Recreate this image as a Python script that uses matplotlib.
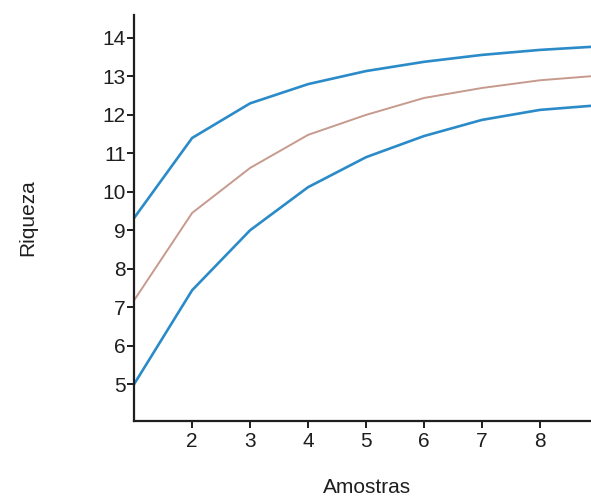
import matplotlib
matplotlib.use("Agg")
import matplotlib.pyplot as plt

amostras = [1, 2, 3, 4, 5, 6, 7, 8, 9]
superior = [9.32, 11.4, 12.3, 12.8, 13.14, 13.38, 13.56, 13.69, 13.78]
media = [7.18, 9.45, 10.62, 11.48, 12.0, 12.44, 12.7, 12.9, 13.02]
inferior = [5.0, 7.44, 9.0, 10.12, 10.9, 11.45, 11.87, 12.13, 12.25]

plt.rcParams['font.family'] = ['Liberation Sans', 'DejaVu Sans']

fig = plt.figure(figsize=(5.91, 4.97), dpi=100)
ax = fig.add_axes([0.227, 0.153, 0.773, 0.817])

ax.plot(amostras, superior, color='#2b8bc8', linewidth=1.9)
ax.plot(amostras, media, color='#c79a8e', linewidth=1.4)
ax.plot(amostras, inferior, color='#2b8bc8', linewidth=1.9)

ax.set_xlim(1, 8.88)
ax.set_ylim(4.04, 14.6)
ax.set_xticks(range(2, 9))
ax.set_yticks(range(5, 15))

for s in ['top', 'right']:
    ax.spines[s].set_visible(False)
for s in ['left', 'bottom']:
    ax.spines[s].set_linewidth(1.6)
    ax.spines[s].set_color('#1e1e1e')

ax.tick_params(axis='both', direction='out', length=5, width=1.4, labelsize=15, colors='#1e1e1e')
ax.tick_params(axis='y', pad=1)
ax.tick_params(axis='x', pad=3)

ax.set_xlabel('Amostras', fontsize=15, color='#1e1e1e')
ax.set_ylabel('Riqueza', fontsize=15, color='#1e1e1e')
ax.xaxis.set_label_coords(0.51, -0.14)
ax.yaxis.set_label_coords(-0.212, 0.5)

fig.savefig('out.png', dpi=100)
